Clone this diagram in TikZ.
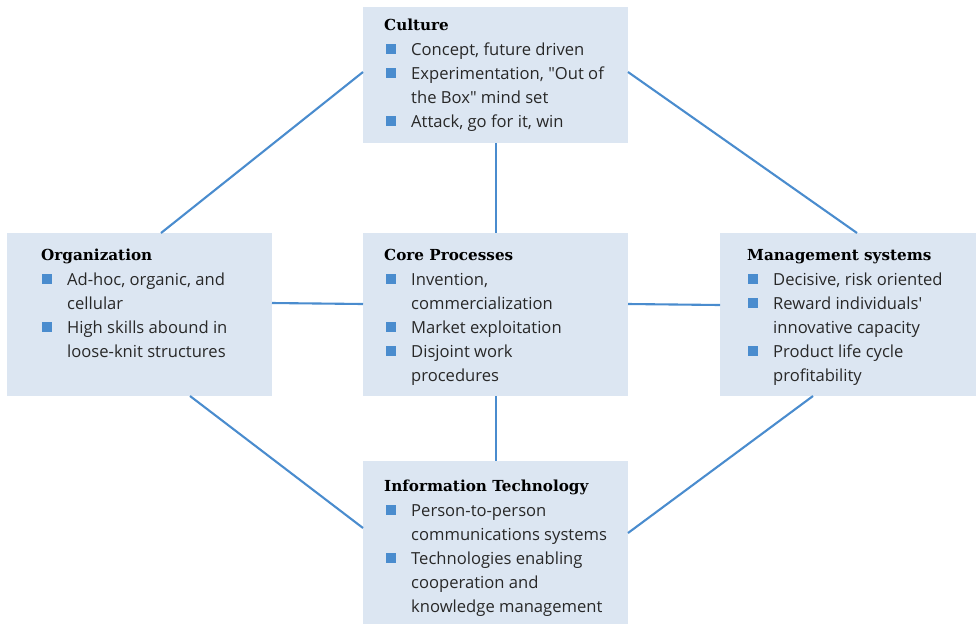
\documentclass[tikz,border=0pt]{standalone}
\usepackage{fontspec}
\setmainfont{Open Sans}[Ligatures=TeXOff]
\newfontfamily\hdfont{DejaVu Serif}
\definecolor{boxfill}{RGB}{220,230,242}
\definecolor{accent}{RGB}{74,140,206}
\definecolor{txt}{RGB}{40,40,40}
\begin{document}
\begin{tikzpicture}[x=1pt,y=-1pt,
  box/.style={fill=boxfill,draw=none,inner sep=0pt},
  link/.style={draw=accent,line width=2.1pt},
  hdtext/.style={inner sep=0pt,anchor=base west,font=\hdfont\bfseries\fontsize{15.2}{18}\selectfont,text=black},
  bodytext/.style={inner sep=0pt,anchor=base west,font=\fontsize{16.6}{20}\selectfont,text=txt},
  bul/.style={fill=accent,draw=none,minimum size=10pt,inner sep=0pt}
]
\useasboundingbox (0,0) rectangle (977,625);
% boxes
\path[box] (363,7) rectangle (628,143) node[pos=0.5] (cul) {};
\path[box] (7,233) rectangle (272,396) node[pos=0.5] (org) {};
\path[box] (363,233) rectangle (628,396) node[pos=0.5] (core) {};
\path[box] (720,233) rectangle (976,396) node[pos=0.5] (mgmt) {};
\path[box] (363,461) rectangle (628,624) node[pos=0.5] (it) {};
\coordinate (culB) at (496,143); \coordinate (coreT) at (496,233);
\coordinate (coreB) at (496,396); \coordinate (itT) at (496,461);
\coordinate (orgR) at (272,303); \coordinate (coreL) at (363,304);
\coordinate (coreR) at (628,304); \coordinate (mgmtL) at (720,305);
\coordinate (culL) at (363,72); \coordinate (orgT) at (161,233);
\coordinate (culR) at (628,72); \coordinate (mgmtT) at (857,233);
\coordinate (orgB) at (190,396); \coordinate (itL) at (363,528);
\coordinate (mgmtB) at (813,396); \coordinate (itR) at (628,533);
\draw[link] (culB) -- (coreT);
\draw[link] (coreB) -- (itT);
\draw[link] (orgR) -- (coreL);
\draw[link] (coreR) -- (mgmtL);
\draw[link] (culL) -- (orgT);
\draw[link] (culR) -- (mgmtT);
\draw[link] (orgB) -- (itL);
\draw[link] (mgmtB) -- (itR);
% Culture
\node[hdtext] (culh) at (384,30) {Culture};
\node[bul] (culb1) at (391,49) {}; \node[bodytext] (cult1) at (411,55) {Concept, future driven};
\node[bul] (culb2) at (391,73) {}; \node[bodytext] (cult2) at (411,79) {Experimentation, "Out of};
\node[bodytext] (cult3) at (411,103) {the Box" mind set};
\node[bul] (culb3) at (391,121) {}; \node[bodytext] (cult4) at (411,127) {Attack, go for it, win};
% Organization
\node[hdtext] (orgh) at (41,260) {Organization};
\node[bul] (orgb1) at (47,279) {}; \node[bodytext] (orgt1) at (67,285) {Ad-hoc, organic, and};
\node[bodytext] (orgt2) at (67,309) {cellular};
\node[bul] (orgb2) at (47,327) {}; \node[bodytext] (orgt3) at (67,333) {High skills abound in};
\node[bodytext] (orgt4) at (67,357) {loose-knit structures};
% Core
\node[hdtext] (coreh) at (384,260) {Core Processes};
\node[bul] (coreb1) at (391,279) {}; \node[bodytext] (coret1) at (411,285) {Invention,};
\node[bodytext] (coret2) at (411,309) {commercialization};
\node[bul] (coreb2) at (391,327) {}; \node[bodytext] (coret3) at (411,333) {Market exploitation};
\node[bul] (coreb3) at (391,351) {}; \node[bodytext] (coret4) at (411,357) {Disjoint work};
\node[bodytext] (coret5) at (411,381) {procedures};
% Management
\node[hdtext] (mgmth) at (747,260) {Management systems};
\node[bul] (mgmtb1) at (753,279) {}; \node[bodytext] (mgmtt1) at (773,285) {Decisive, risk oriented};
\node[bul] (mgmtb2) at (753,303) {}; \node[bodytext] (mgmtt2) at (773,309) {Reward individuals'};
\node[bodytext] (mgmtt3) at (773,333) {innovative capacity};
\node[bul] (mgmtb3) at (753,351) {}; \node[bodytext] (mgmtt4) at (773,357) {Product life cycle};
\node[bodytext] (mgmtt5) at (773,381) {profitability};
% IT
\node[hdtext] (ith) at (384,491) {Information Technology};
\node[bul] (itb1) at (391,510) {}; \node[bodytext] (itt1) at (411,516) {Person-to-person};
\node[bodytext] (itt2) at (411,540) {communications systems};
\node[bul] (itb2) at (391,558) {}; \node[bodytext] (itt3) at (411,564) {Technologies enabling};
\node[bodytext] (itt4) at (411,588) {cooperation and};
\node[bodytext] (itt5) at (411,612) {knowledge management};
\end{tikzpicture}
\end{document}
